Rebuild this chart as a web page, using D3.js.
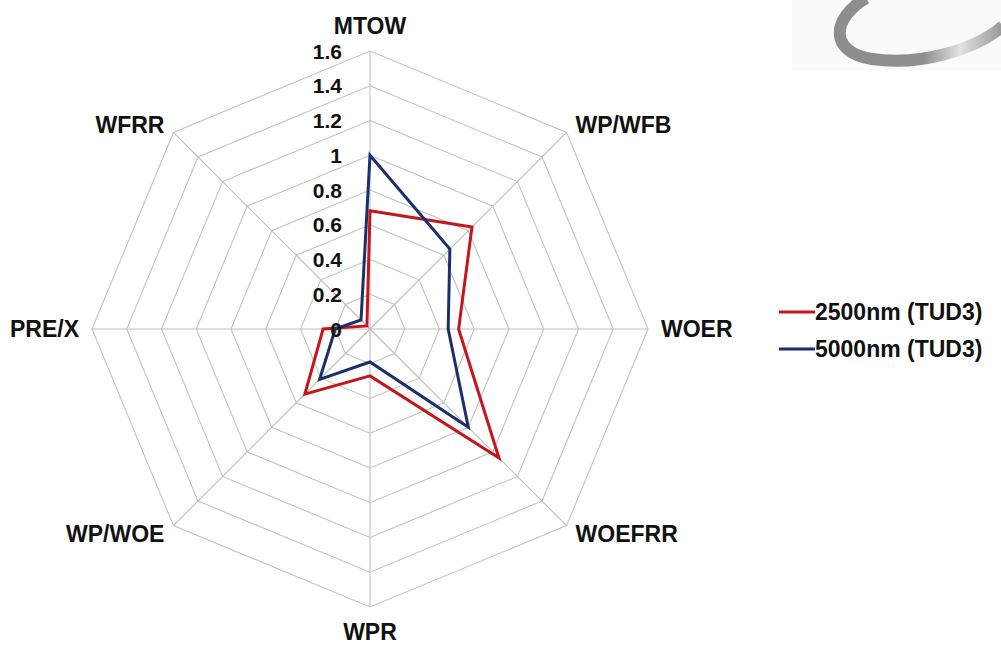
<!DOCTYPE html>
<html>
<head>
<meta charset="utf-8">
<script src="https://cdn.jsdelivr.net/npm/d3@7"></script>
<style>
  html, body { margin: 0; padding: 0; background: #fff; }
  svg { display: block; font-family: Arial, "Liberation Sans", sans-serif; }
</style>
</head>
<body>
<svg id="chart" width="1001" height="663"></svg>
<script>
// Radar axes, clockwise from the top
const axes = ["MTOW", "WP/WFB", "WOER", "WOEFRR", "WPR", "WP/WOE", "PRE/X", "WFRR"];
const ticks = [0, 0.2, 0.4, 0.6, 0.8, 1, 1.2, 1.4, 1.6];
const tickLabels = ["0", "0.2", "0.4", "0.6", "0.8", "1", "1.2", "1.4", "1.6"];

// Normalised values per axis
const s2500 = [0.68, 0.83, 0.51, 1.05, 0.27, 0.53, 0.27, 0.025];
const s5000 = [1.0, 0.65, 0.45, 0.80, 0.19, 0.41, 0.20, 0.073];

const seriesNames = ["2500nm (TUD3)", "5000nm (TUD3)"];
const seriesColors = ["#c4161c", "#1b2f6b"];

const svg = d3.select("#chart");
const cx = 370, cy = 329, R = 278;

const r = d3.scaleLinear().domain([0, 1.6]).range([0, R]);
const ang = a => (axes.indexOf(a) / axes.length) * 2 * Math.PI;

function pt(a, v) {
  const t = ang(a);
  return [cx + r(v) * Math.sin(t), cy - r(v) * Math.cos(t)];
}

// Corner emblem (partial swoosh)
const defs = svg.append("defs");
const grad = defs.append("linearGradient").attr("id", "swoosh")
  .attr("gradientUnits", "userSpaceOnUse")
  .attr("x1", 830).attr("y1", 0).attr("x2", 1001).attr("y2", 0);
grad.append("stop").attr("offset", 0).attr("stop-color", "#8d8d8d");
grad.append("stop").attr("offset", 0.55).attr("stop-color", "#8f8f8f");
grad.append("stop").attr("offset", 0.76).attr("stop-color", "#e2e2e2");
grad.append("stop").attr("offset", 1).attr("stop-color", "#9a9a9a");
svg.append("rect").attr("x", 792).attr("y", 0).attr("width", 209).attr("height", 70).attr("fill", "#fafafa");
svg.append("path")
  .attr("d", "M866,-2 C832,18 828,52 872,59 C920,66 975,50 1003,26")
  .attr("fill", "none").attr("stroke", "url(#swoosh)").attr("stroke-width", 12)
  .attr("stroke-linecap", "butt");

// Grid rings
const grid = svg.append("g");
ticks.slice(1).forEach(t => {
  grid.append("path")
    .attr("d", d3.line()(axes.map(a => pt(a, t))) + "Z")
    .attr("fill", "none").attr("stroke", "#c2c2c2").attr("stroke-width", 1.1);
});
// Spokes
axes.forEach(a => {
  const p = pt(a, 1.6);
  grid.append("line").attr("x1", cx).attr("y1", cy).attr("x2", p[0]).attr("y2", p[1])
    .attr("stroke", "#bdbdbd").attr("stroke-width", 1.1);
});

// Series
[s2500, s5000].forEach((vals, i) => {
  svg.append("path")
    .attr("d", d3.line()(axes.map((a, k) => pt(a, vals[k]))) + "Z")
    .attr("fill", "none").attr("stroke", seriesColors[i]).attr("stroke-width", 3)
    .attr("stroke-linejoin", "miter");
});

// Value ticks along the top axis
ticks.forEach((t, i) => {
  svg.append("text")
    .attr("x", 342).attr("y", cy - r(t)).attr("dy", "0.36em")
    .attr("text-anchor", "end").attr("font-size", 21).attr("font-weight", "bold")
    .attr("fill", "#111").text(tickLabels[i]);
});

// Axis labels
axes.forEach(a => {
  const t = ang(a);
  const dx = Math.sin(t), dy = -Math.cos(t);
  const p = pt(a, 1.6);
  let x = p[0], y = p[1], anchor = "middle";
  if (Math.abs(dx) < 0.1) {
    y += Math.sign(dy) * 25;
  } else if (Math.abs(dy) < 0.1) {
    x += Math.sign(dx) * 13;
    anchor = dx > 0 ? "start" : "end";
  } else {
    x += Math.sign(dx) * 9;
    y += Math.sign(dy) * 8;
    anchor = dx > 0 ? "start" : "end";
  }
  svg.append("text")
    .attr("x", x).attr("y", y).attr("dy", "0.36em")
    .attr("text-anchor", anchor).attr("font-size", 23).attr("font-weight", "bold")
    .attr("fill", "#111").text(a);
});

// Legend
const legend = svg.append("g");
seriesNames.forEach((name, i) => {
  const y = 312 + i * 37;
  legend.append("line").attr("x1", 779).attr("x2", 815).attr("y1", y).attr("y2", y)
    .attr("stroke", seriesColors[i]).attr("stroke-width", 3);
  legend.append("text").attr("x", 815).attr("y", y).attr("dy", "0.36em")
    .attr("font-size", 23).attr("font-weight", "bold").attr("fill", "#111").text(name);
});
</script>
</body>
</html>
